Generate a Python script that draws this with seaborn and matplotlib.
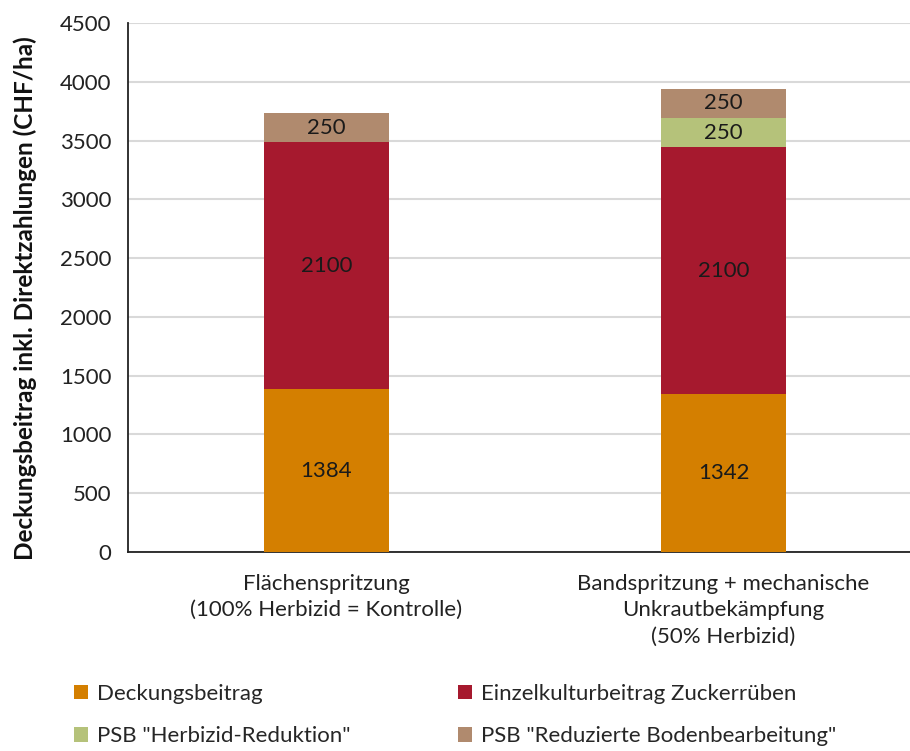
import matplotlib
matplotlib.use("Agg")
import matplotlib.pyplot as plt
from matplotlib.patches import Patch
import seaborn as sns
import pandas as pd
import numpy as np

categories = ["Flächenspritzung\n(100% Herbizid = Kontrolle)",
              "Bandspritzung + mechanische\nUnkrautbekämpfung\n(50% Herbizid)"]
series_names = ["Deckungsbeitrag", "Einzelkulturbeitrag Zuckerrüben",
                'PSB "Herbizid-Reduktion"', 'PSB "Reduzierte Bodenbearbeitung"']
deckungsbeitrag = [1384, 1342]
einzelkultur = [2100, 2100]
psb_herbizid = [0, 250]
psb_boden = [250, 250]
colors = ["#D47F00", "#A6192E", "#B5C27A", "#B08A6E"]
yticks = [0, 500, 1000, 1500, 2000, 2500, 3000, 3500, 4000, 4500]

sns.set_theme(style="white")
plt.rcParams['font.family'] = ['Lato', 'DejaVu Sans']

fig = plt.figure(figsize=(9.1, 7.51), dpi=100)
ax = fig.add_axes([128/910, 199/751, 794/910, 529/751])

values = [deckungsbeitrag, einzelkultur, psb_herbizid, psb_boden]
bottom = np.zeros(len(categories))
for name, vals, col in zip(series_names, values, colors):
    df = pd.DataFrame({"cat": categories, "val": vals})
    sns.barplot(data=df, x="cat", y="val", color=col, width=0.315,
                bottom=bottom, ax=ax, saturation=1, edgecolor="none", zorder=3)
    for i, v in enumerate(vals):
        if v > 0:
            ax.text(i, bottom[i] + v / 2, f"{v}", ha="center", va="center",
                    fontsize=16, color="#1a1a1a", zorder=4)
    bottom = bottom + np.array(vals)

ax.set_xlim(-0.5, 1.5)
ax.set_ylim(0, 4500)
ax.set_yticks(yticks)
ax.set_yticklabels([str(t) for t in yticks], fontsize=16, color="#222222")
ax.tick_params(axis="x", labelsize=16, colors="#222222", pad=16, length=0)
ax.tick_params(axis="y", length=0, pad=12)
for lbl in ax.get_xticklabels():
    lbl.set_linespacing(1.38)
ax.set_xlabel("")
ax.set_ylabel("Deckungsbeitrag inkl. Direktzahlungen (CHF/ha)", fontsize=17.5,
              fontweight="bold", color="#111111", labelpad=14)
ax.yaxis.set_label_coords(-0.115, 0.48)
ax.yaxis.grid(True, color="#d9d9d9", linewidth=1.5, zorder=0)
ax.set_axisbelow(True)
for s in ["top", "right"]:
    ax.spines[s].set_visible(False)
ax.spines["left"].set_color("#222222")
ax.spines["bottom"].set_color("#222222")
ax.spines["left"].set_linewidth(1.3)
ax.spines["bottom"].set_linewidth(1.3)

handles = [Patch(facecolor=c, edgecolor="none", label=n) for n, c in zip(series_names, colors)]
order = [0, 2, 1, 3]
fig.legend(handles=[handles[i] for i in order], ncol=2, loc="lower left",
           bbox_to_anchor=(54/910, -0.02),
           frameon=False, fontsize=16, handlelength=0.65, handleheight=0.65,
           handletextpad=0.4, columnspacing=4.8, labelspacing=1.0)

fig.savefig("out.png", dpi=100)
